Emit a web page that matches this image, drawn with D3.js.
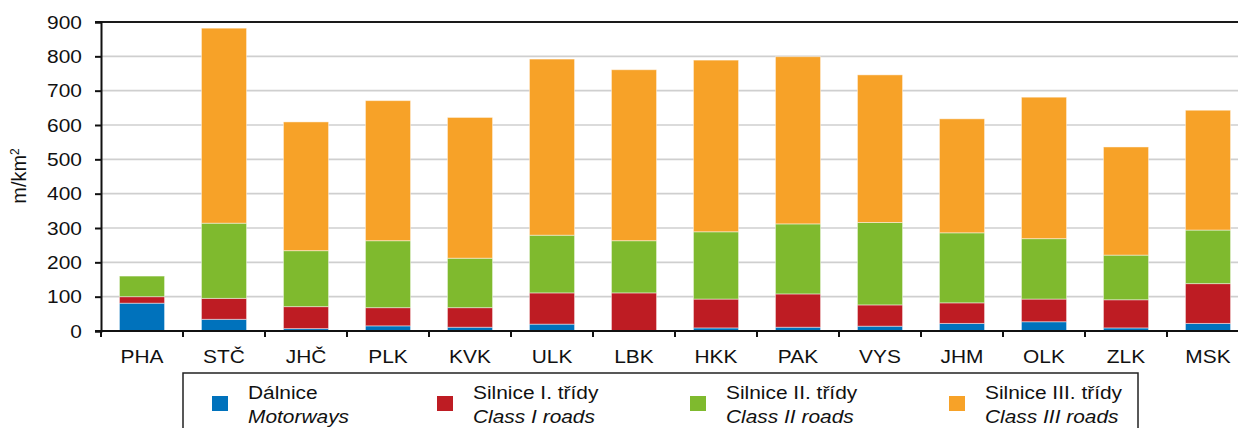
<!DOCTYPE html>
<html>
<head>
<meta charset="utf-8">
<script src="https://cdn.jsdelivr.net/npm/d3@7/dist/d3.min.js"></script>
<style>
  html, body { margin: 0; padding: 0; background: #fff; overflow: hidden; }
  svg { display: block; font-family: "Liberation Sans", Arial, sans-serif; }
</style>
</head>
<body>
<svg id="chart" width="1238" height="428"></svg>
<script>
// Regions (kraje)
const regions = ["PHA", "STČ", "JHČ", "PLK", "KVK", "ULK", "LBK", "HKK", "PAK", "VYS", "JHM", "OLK", "ZLK", "MSK"];

// Road density by road class, m/km²
const motorways   = [81, 34, 7, 15, 11, 20, 0, 9, 11, 14, 22, 27, 9, 22];
const classI      = [19, 61, 64, 53, 57, 91, 111, 84, 97, 62, 60, 66, 82, 116];
const classII     = [60, 219, 163, 195, 144, 168, 152, 196, 204, 240, 204, 176, 130, 156];
const classIII    = [0, 568, 375, 408, 410, 513, 498, 500, 487, 430, 332, 412, 315, 349];

const yTicks = [0, 100, 200, 300, 400, 500, 600, 700, 800, 900];

const seriesKeys   = ["d", "c1", "c2", "c3"];
const seriesColors = ["#0072bc", "#be1c23", "#7fba2e", "#f7a228"];
const legendCz = ["Dálnice", "Silnice I. třídy", "Silnice II. třídy", "Silnice III. třídy"];
const legendEn = ["Motorways", "Class I roads", "Class II roads", "Class III roads"];

const rows = regions.map((r, i) => ({
  region: r, d: motorways[i], c1: classI[i], c2: classII[i], c3: classIII[i]
}));

const FONT = "19px";
const SX = 1.1; // slightly widened lettering

// Moves a text's x/y into a transform so it can be widened around its anchor
function widen(sel) {
  sel.each(function () {
    const t = d3.select(this);
    const tx = +t.attr("x") || 0;
    const ty = +t.attr("y") || 0;
    t.attr("x", 0).attr("y", 0).attr("transform", `translate(${tx},${ty}) scale(${SX},1)`);
  });
}

const svg = d3.select("#chart");
const plot = { left: 101, right: 1249, top: 22, bottom: 331 };

const x = d3.scaleBand()
  .domain(regions)
  .range([plot.left, plot.right])
  .paddingInner(0.45)
  .paddingOuter(0.225);

const y = d3.scaleLinear().domain([0, 900]).range([plot.bottom, plot.top]);

// Horizontal gridlines
svg.append("g")
  .selectAll("line")
  .data(yTicks.filter(t => t > 0 && t < 900))
  .join("line")
  .attr("x1", plot.left).attr("x2", 1238)
  .attr("y1", d => y(d)).attr("y2", d => y(d))
  .attr("stroke", "#cfcfcf").attr("stroke-width", 1.6);

// Top border of the plot area
svg.append("line")
  .attr("x1", plot.left - 6).attr("x2", 1238)
  .attr("y1", y(900)).attr("y2", y(900))
  .attr("stroke", "#1a1a1a").attr("stroke-width", 2);

// Stacked bars
const stack = d3.stack().keys(seriesKeys);
const layers = stack(rows);

svg.append("g")
  .selectAll("g")
  .data(layers)
  .join("g")
  .attr("fill", (d, i) => seriesColors[i])
  .selectAll("rect")
  .data(d => d)
  .join("rect")
  .attr("x", d => x(d.data.region))
  .attr("width", x.bandwidth())
  .attr("y", d => y(d[1]))
  .attr("height", d => Math.max(0, y(d[0]) - y(d[1])))
  .attr("stroke", "rgba(255,255,255,0.45)")
  .attr("stroke-width", 1);

// Y axis
const yAxis = d3.axisLeft(y).tickValues(yTicks).tickSize(6).tickPadding(13).tickFormat(d3.format("d"));
const gy = svg.append("g").attr("transform", `translate(${plot.left},0)`).call(yAxis);
gy.select(".domain").attr("stroke", "#111").attr("stroke-width", 2);
gy.selectAll(".tick line").attr("stroke", "#111").attr("stroke-width", 2);
gy.selectAll(".tick text").attr("fill", "#111").style("font-size", FONT)
  .style("font-family", "'Liberation Sans', Arial, sans-serif")
  .call(widen);

// X axis with ticks between categories
const step = x.step();
const boundaries = d3.range(regions.length + 1).map(i => plot.left + i * step);
const gx = svg.append("g");
gx.append("line")
  .attr("x1", plot.left - 6).attr("x2", 1238)
  .attr("y1", plot.bottom).attr("y2", plot.bottom)
  .attr("stroke", "#111").attr("stroke-width", 2);
gx.selectAll("line.tk")
  .data(boundaries)
  .join("line")
  .attr("class", "tk")
  .attr("x1", d => d).attr("x2", d => d)
  .attr("y1", plot.bottom).attr("y2", plot.bottom + 6)
  .attr("stroke", "#111").attr("stroke-width", 2);
gx.selectAll("text")
  .data(regions)
  .join("text")
  .attr("x", d => x(d) + x.bandwidth() / 2)
  .attr("y", 362.5)
  .attr("text-anchor", "middle")
  .attr("fill", "#111")
  .style("font-size", FONT)
  .text(d => d)
  .call(widen);

// Y axis title
const yt = svg.append("text")
  .attr("transform", "translate(26,176) rotate(-90)")
  .attr("text-anchor", "middle")
  .attr("fill", "#111")
  .style("font-size", "20px");
yt.append("tspan").text("m/km");
yt.append("tspan").attr("dy", -7).style("font-size", "12px").text("2");

// Legend
const legend = svg.append("g");
legend.append("rect")
  .attr("x", 183).attr("y", 373)
  .attr("width", 955).attr("height", 70)
  .attr("fill", "#fff").attr("stroke", "#222").attr("stroke-width", 1.5);

const legendX = [212, 437, 690, 949];
const items = legend.selectAll("g.item")
  .data(seriesKeys)
  .join("g")
  .attr("class", "item")
  .attr("transform", (d, i) => `translate(${legendX[i]},0)`);
items.append("rect")
  .attr("x", 0).attr("y", 396)
  .attr("width", 16).attr("height", 15)
  .attr("fill", (d, i) => seriesColors[i]);
items.append("text")
  .attr("x", 36).attr("y", 398.5)
  .attr("fill", "#111")
  .style("font-size", FONT)
  .text((d, i) => legendCz[i])
  .call(widen);
items.append("text")
  .attr("x", 36).attr("y", 423)
  .attr("fill", "#111")
  .style("font-size", FONT)
  .style("font-style", "italic")
  .text((d, i) => legendEn[i])
  .call(widen);
</script>
</body>
</html>
